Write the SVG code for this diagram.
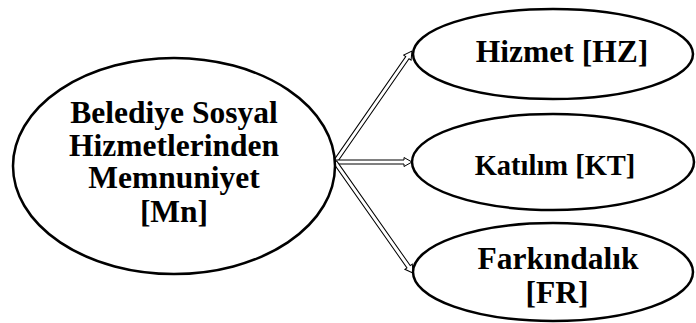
<svg xmlns="http://www.w3.org/2000/svg" width="696" height="323" viewBox="0 0 696 323">
<style>
.n{fill:#fff;stroke:#000;stroke-width:2.5}
.t{font-family:"Liberation Serif","Times New Roman",serif;font-weight:bold;font-size:31.5px;text-anchor:middle;fill:#000}
.a{fill:#fff;stroke:#000;stroke-width:1}
</style>
<rect width="696" height="323" fill="#fff"/>
<g id="connectors">
<path class="a" transform="translate(335,162) rotate(-55.25)" d="M0,-2 L127,-2 L127,-4.5 L135,0 L127,4.5 L127,2 L0,2 Z"/>
<path class="a" transform="translate(335,162)" d="M0,-2 L69,-2 L69,-4.5 L77,0 L69,4.5 L69,2 L0,2 Z"/>
<path class="a" transform="translate(335,162) rotate(54.9)" d="M0,-2 L128,-2 L128,-4.5 L136,0 L128,4.5 L128,2 L0,2 Z"/>
</g>
<g id="mn">
<ellipse class="n" cx="174" cy="166" rx="161" ry="108"/>
<text class="t" x="174" y="123">Belediye Sosyal</text>
<text class="t" x="174" y="156">Hizmetlerinden</text>
<text class="t" x="174" y="188">Memnuniyet</text>
<text class="t" x="174" y="222">[Mn]</text>
</g>
<g id="hz">
<ellipse class="n" cx="553" cy="54" rx="140" ry="45"/>
<text class="t" x="562" y="62">Hizmet [HZ]</text>
</g>
<g id="kt">
<ellipse class="n" cx="553" cy="162" rx="141" ry="48"/>
<text class="t" x="555" y="175" style="font-size:28.5px">Katılım [KT]</text>
</g>
<g id="fr">
<ellipse class="n" cx="553" cy="272" rx="140" ry="49"/>
<text class="t" x="558" y="269">Farkındalık</text>
<text class="t" x="557" y="303">[FR]</text>
</g>
</svg>
